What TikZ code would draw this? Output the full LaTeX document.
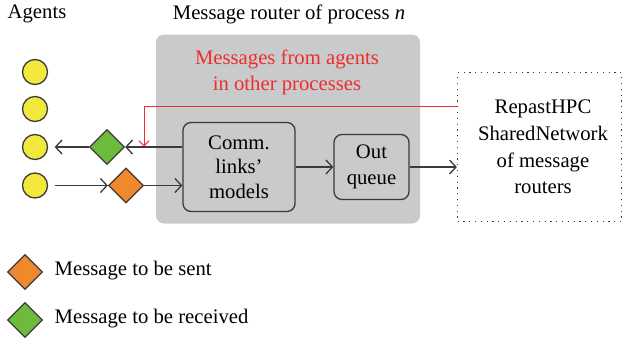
\documentclass[tikz,border=0pt]{standalone}
\usepackage{fontspec}
\setmainfont{Liberation Serif}
\usetikzlibrary{arrows.meta,shapes.geometric}
\definecolor{boxgray}{HTML}{C9CACC}
\definecolor{agentyellow}{HTML}{F2E93C}
\definecolor{msggreen}{HTML}{6CBB3C}
\definecolor{msgorange}{HTML}{F0882E}
\definecolor{linegray}{HTML}{3A3A3A}
\definecolor{msgred}{HTML}{EE2D2D}
\begin{document}
\begin{tikzpicture}[x=1pt,y=-1pt,
  font=\fontsize{20.7}{25.5}\selectfont,
  agent/.style={circle,draw=linegray,fill=agentyellow,line width=1.3pt,minimum size=25pt,inner sep=0pt},
  msg/.style={diamond,draw=linegray,line width=1.3pt,minimum width=35pt,minimum height=35pt,inner sep=0pt,aspect=1},
  procbox/.style={draw=linegray,fill=boxgray,rounded corners=8pt,line width=1.3pt,align=center,inner sep=0pt},
  conn/.style={draw=linegray,line width=1.3pt,-{Straight Barb[length=6.5pt,width=14pt]}},
  redconn/.style={draw=msgred,line width=1pt,-{Straight Barb[length=5pt,width=10pt]}},
  lbl/.style={inner sep=0pt,align=center},
]
\useasboundingbox (0,0) rectangle (623,343);
% titles
\node[lbl] (agentstitle) at (37,14) {Agents};
\node[lbl] (routertitle) at (289,14) {Message router of process \textit{n}};
% gray process area
\node[fill=boxgray,rounded corners=8pt,minimum width=264pt,minimum height=189pt,inner sep=0pt] (router) at (288,129) {};
\node[lbl,text=msgred,font=\fontsize{20.7}{26}\selectfont] (redtext) at (287,72) {Messages from agents\\in other processes};
% agents
\node[agent] (a1) at (35,72) {};
\node[agent] (a2) at (35,109) {};
\node[agent] (a3) at (35,147) {};
\node[agent] (a4) at (35,185.5) {};
% messages
\node[msg,fill=msggreen] (recv) at (107,147) {};
\node[msg,fill=msgorange] (send) at (126,185.5) {};
% boxes
\node[procbox,minimum width=112pt,minimum height=89pt,font=\fontsize{20.7}{24.5}\selectfont] (comm) at (239,167) {Comm.\\links'\\models};
\node[procbox,minimum width=75pt,minimum height=65pt] (outq) at (371.5,167) {Out\\queue};
\node[draw=linegray,line width=1.2pt,dash pattern=on 1.2pt off 4.6pt,minimum width=164pt,minimum height=149pt,inner sep=0pt] (net) at (539.5,147.3) {};
\node[lbl,font=\fontsize{20.7}{26.7}\selectfont] (nettext) at (543,147) {RepastHPC\\SharedNetwork\\of message\\routers};
% connectors
\draw[conn] (comm.west |- recv) -- (recv.east);
\draw[conn,shorten >=6.5pt] (recv.west) -- (a3.east);
\draw[conn,shorten <=6.5pt] (a4.east) -- (send.west);
\draw[conn] (send.east) -- (comm.west |- send);
\draw[conn] (comm.east) -- (outq.west);
\draw[conn] (outq.east) -- (net.west |- outq);
\coordinate (redstart) at (456.7,106.7);
\coordinate (redbend) at (144,106.7);
\coordinate (redend) at (144,146.5);
\draw[redconn] (redstart) -- (redbend) -- (redend);
% legend
\node[msg,fill=msgorange] (legsend) at (25,272) {};
\node[lbl,anchor=west] (legsendtext) at (54.5,271) {Message to be sent};
\node[msg,fill=msggreen] (legrecv) at (25,320) {};
\node[lbl,anchor=west] (legrecvtext) at (54.5,319) {Message to be received};
\end{tikzpicture}
\end{document}
